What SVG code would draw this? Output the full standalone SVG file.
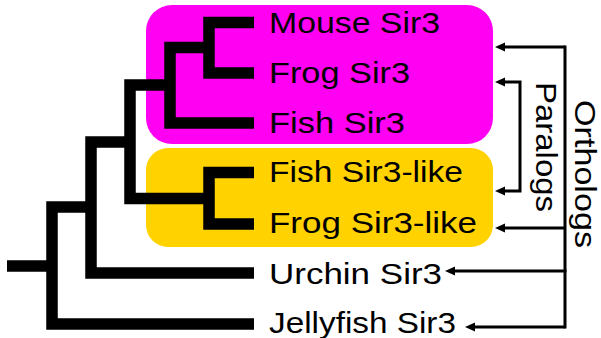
<svg xmlns="http://www.w3.org/2000/svg" width="601" height="338" viewBox="0 0 601 338">
<defs>
<style>
.lbl{font-family:"Liberation Sans",Arial,sans-serif;font-size:30px;fill:#000}
.tree{fill:none;stroke:#000;stroke-width:11.5;stroke-linejoin:miter;stroke-linecap:butt}
.conn{fill:none;stroke:#000;stroke-width:3}
</style>
<marker id="ah" viewBox="0 0 10 10" refX="2" refY="5" markerWidth="10" markerHeight="10" markerUnits="userSpaceOnUse" orient="auto-start-reverse">
<path d="M0,0.5 L10,5 L0,9.5 Z" fill="#000"/>
</marker>
</defs>
<g id="group-sir3"><rect x="146" y="5" width="347" height="139" rx="26" fill="#FF00F2"/></g>
<g id="group-sir3-like"><rect x="146" y="148" width="347" height="99" rx="22" fill="#FFD200"/></g>
<g id="tree">
<path class="tree" d="M7,266 H52"/>
<path class="tree" d="M254,324 H52 V207 H91"/>
<path class="tree" d="M254,273 H91 V142 H130"/>
<path class="tree" d="M209,198.5 H130 V85 H170"/>
<path class="tree" d="M254,172.5 H209 V224 H254"/>
<path class="tree" d="M254,123 H170 V47.5 H209"/>
<path class="tree" d="M254,22.5 H209 V73 H254"/>
</g>
<g id="mouse-sir3"><text class="lbl" x="269" y="33" textLength="171" lengthAdjust="spacingAndGlyphs">Mouse Sir3</text></g>
<g id="frog-sir3"><text class="lbl" x="269" y="83" textLength="141" lengthAdjust="spacingAndGlyphs">Frog Sir3</text></g>
<g id="fish-sir3"><text class="lbl" x="269" y="133" textLength="136" lengthAdjust="spacingAndGlyphs">Fish Sir3</text></g>
<g id="fish-sir3-like"><text class="lbl" x="269" y="182" textLength="194" lengthAdjust="spacingAndGlyphs">Fish Sir3-like</text></g>
<g id="frog-sir3-like"><text class="lbl" x="269" y="232.5" textLength="208" lengthAdjust="spacingAndGlyphs">Frog Sir3-like</text></g>
<g id="urchin-sir3"><text class="lbl" x="269" y="283.5" textLength="173" lengthAdjust="spacingAndGlyphs">Urchin Sir3</text></g>
<g id="jellyfish-sir3"><text class="lbl" x="269" y="333" textLength="187" lengthAdjust="spacingAndGlyphs">Jellyfish Sir3</text></g>
<g id="connectors">
<path class="conn" d="M565,45.5 V328.5"/>
<path class="conn" d="M565,47 H503" marker-end="url(#ah)"/>
<path class="conn" d="M565,228 H503" marker-end="url(#ah)"/>
<path class="conn" d="M566.5,271 H453" marker-end="url(#ah)"/>
<path class="conn" d="M565,327 H473" marker-end="url(#ah)"/>
<path class="conn" d="M503,82 H520 V191 H503" marker-start="url(#ah)" marker-end="url(#ah)"/>
</g>
<g id="paralogs"><text class="lbl" transform="translate(536,147) rotate(90)" text-anchor="middle" textLength="130" lengthAdjust="spacingAndGlyphs">Paralogs</text></g>
<g id="orthologs"><text class="lbl" style="font-size:29px" transform="translate(574.5,174) rotate(90)" text-anchor="middle" textLength="148" lengthAdjust="spacingAndGlyphs">Orthologs</text></g>
</svg>
